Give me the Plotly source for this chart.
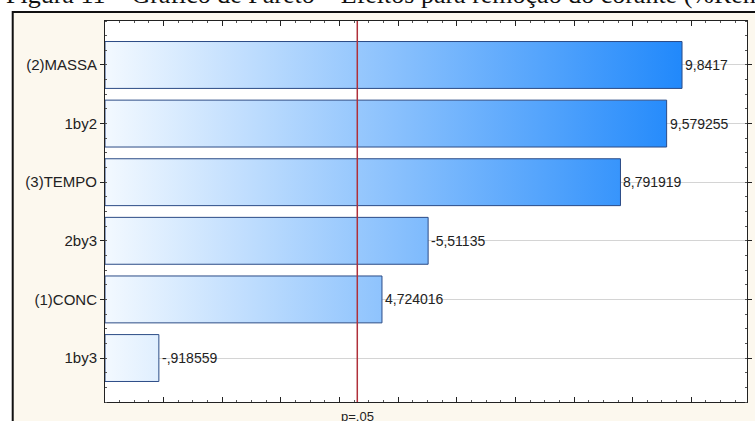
import plotly.graph_objects as go

# ---- data ----
factors = ["(2)MASSA", "1by2", "(3)TEMPO", "2by3", "(1)CONC", "1by3"]
effects = [9.8417, 9.579255, 8.791919, -5.51135, 4.724016, -0.918559]
effect_labels = ["9,8417", "9,579255", "8,791919", "-5,51135", "4,724016", "-,918559"]
p_critical = 4.303
p_label = "p=.05"
caption = "Figura 11 – Gráfico de Pareto – Efeitos para remoção do corante (%Remoção)"

# ---- geometry / style ----
W, H = 755, 421
ML, MR, MT, MB = 105, 3, 21, 19
PW, PH = W - ML - MR, H - MT - MB
half = 0.4
FONT = "Liberation Sans, Arial"

def px_x(p):
    return (p - ML) / PW

def px_y(p):
    return (H - MB - p) / PH

pos = list(range(len(factors)))
absvals = [abs(v) for v in effects]

xs, ys = [], []
for i, v in zip(pos, absvals):
    xs += [0, v, v, 0, 0, None]
    ys += [i - half, i - half, i + half, i + half, i - half, None]

fig = go.Figure()
fig.add_trace(go.Scatter(
    x=xs, y=ys, mode="lines", fill="toself",
    line=dict(color="#2B4B86", width=1),
    fillgradient=dict(type="horizontal",
                      colorscale=[[0, "#F3F9FF"], [1, "#1C86FB"]],
                      start=0, stop=10),
    hoverinfo="skip", showlegend=False,
))

for i, v, lab in zip(pos, absvals, effect_labels):
    fig.add_annotation(x=v, y=i, xref="x", yref="y", text=lab, showarrow=False,
                       xanchor="left", yanchor="middle", xshift=1,
                       font=dict(family=FONT, size=14, color="#222222"))

# frame and plot background
fig.add_shape(type="rect", xref="paper", yref="paper",
              x0=px_x(12), x1=px_x(790), y0=px_y(460), y1=px_y(12),
              fillcolor="#FCF8EE", line=dict(color="#111111", width=2),
              layer="below")
fig.add_shape(type="rect", xref="paper", yref="paper",
              x0=0, x1=1, y0=0, y1=1,
              fillcolor="white", line=dict(width=0), layer="below")
# critical value line
fig.add_shape(type="line", xref="x", yref="paper",
              x0=p_critical, x1=p_critical, y0=0, y1=1,
              line=dict(color="#B0303A", width=1.5), layer="above")

fig.add_annotation(x=p_critical, xref="x", y=px_y(407), yref="paper",
                   text=p_label, showarrow=False, yanchor="top",
                   font=dict(family=FONT, size=13, color="#222222"))
fig.add_annotation(x=px_x(3), xref="paper", y=px_y(-5), yref="paper",
                   text=caption, showarrow=False, xanchor="left", yanchor="middle",
                   font=dict(family="Liberation Serif, Times New Roman", size=26, color="#111111"))

fig.update_xaxes(range=[0, 10.95], showticklabels=False, showgrid=False,
                 zeroline=False, showline=True, linecolor="#222222", linewidth=1,
                 mirror="ticks", ticks="inside", ticklen=5, tickcolor="#222222",
                 dtick=1, tick0=0,
                 minor=dict(ticks="inside", ticklen=2, dtick=0.25, tickcolor="#555555",
                            showgrid=False))
fig.update_yaxes(range=[5.75, -0.75], tickvals=pos, ticktext=factors,
                 showgrid=True, gridcolor="#D4D4D4", gridwidth=1,
                 zeroline=False, showline=True, linecolor="#222222", linewidth=1,
                 mirror="ticks", ticks="outside", ticklen=4, tickcolor="#222222",
                 tickfont=dict(family=FONT, size=15, color="#222222"),
                 minor=dict(ticks="inside", ticklen=2, dtick=0.25, tick0=0,
                            tickcolor="#555555", showgrid=False))

fig.update_layout(width=W, height=H,
                  margin=dict(l=ML, r=MR, t=MT, b=MB, pad=0),
                  paper_bgcolor="white", plot_bgcolor="white",
                  showlegend=False)

fig.write_html("out.html", config={"displayModeBar": False},
               post_script="document.body.style.margin='0px';document.body.style.overflow='hidden';")
